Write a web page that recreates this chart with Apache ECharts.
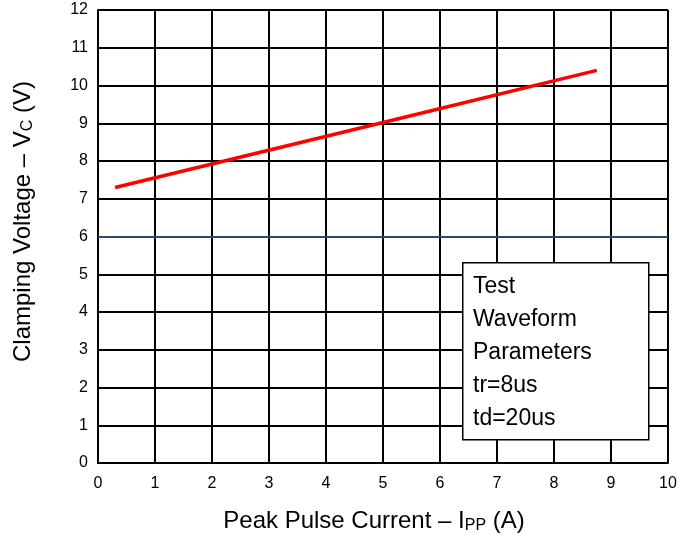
<!DOCTYPE html>
<html><head><meta charset="utf-8">
<script src="https://cdn.jsdelivr.net/npm/echarts@6/dist/echarts.min.js"></script>
<style>html,body{margin:0;padding:0;background:#fff}#c{width:696px;height:538px}</style>
</head><body><div id="c"></div>
<script>
const currentA = [0.3, 5.0, 8.75];
const clampV = [7.3, 9.02, 10.4];
const xTicks = [0,1,2,3,4,5,6,7,8,9,10];
const yTicks = [0,1,2,3,4,5,6,7,8,9,10,11,12];
const boxLines = ['Test', 'Waveform', 'Parameters', 'tr=8us', 'td=20us'];

const chart = echarts.init(document.getElementById('c'));
const font = '"Liberation Sans", Arial, sans-serif';
chart.setOption({
  animation: false,
  textStyle: {fontFamily: font},
  grid: {left: 98, right: 28, top: 10, bottom: 75, show: false, outerBoundsMode: 'none', containLabel: false},
  xAxis: {
    type: 'value', min: 0, max: 10, interval: 1,
    axisLine: {show: true, lineStyle: {color: '#000', width: 2}},
    axisTick: {show: false},
    axisLabel: {color: '#000', fontSize: 16, margin: 13, fontFamily: font},
    splitLine: {show: true, lineStyle: {color: '#000', width: 2}},
    name: '{n|Peak Pulse Current \u2013 I}{s|PP}{n| (A)}',
    nameLocation: 'middle', nameGap: 45,
    nameTextStyle: {padding: [0, 18, 0, 0], rich: {
      n: {fontSize: 24, color: '#000', fontFamily: font},
      s: {fontSize: 16, color: '#000', fontFamily: font, verticalAlign: 'bottom', padding: [10,0,0,0]}
    }}
  },
  yAxis: {
    type: 'value', min: 0, max: 12, interval: 1,
    axisLine: {show: true, lineStyle: {color: '#000', width: 2}},
    axisTick: {show: false},
    axisLabel: {color: '#000', fontSize: 16, margin: 10, fontFamily: font},
    splitLine: {show: true, lineStyle: {color: '#000', width: 2}},
    name: '{n|Clamping Voltage \u2013 V}{s|C}{n| (V)}',
    nameLocation: 'middle', nameGap: 62,
    nameTextStyle: {padding: [0, 0, 0, 30], rich: {
      n: {fontSize: 24, color: '#000', fontFamily: font},
      s: {fontSize: 16, color: '#000', fontFamily: font, verticalAlign: 'bottom', padding: [10,0,0,0]}
    }}
  },
  series: [{
    type: 'line',
    data: currentA.map((x, i) => [x, clampV[i]]),
    symbol: 'none', smooth: false,
    lineStyle: {color: '#ff0000', width: 3.5},
    z: 5,
    markLine: {
      silent: true, symbol: 'none', label: {show: false},
      lineStyle: {color: '#2a4a6b', width: 2, type: 'solid'},
      data: [{yAxis: 6}], z: 2
    }
  }],
  graphic: [
    {type: 'rect', left: 462, top: 262, z: 100, zlevel: 1,
     shape: {width: 186, height: 177},
     style: {fill: '#ffffff', stroke: '#000', lineWidth: 1.5}},
    {type: 'text', left: 473, top: 270, z: 101, zlevel: 1,
     style: {text: boxLines.join('\n'), fill: '#000', font: '23px ' + font, lineHeight: 33}}
  ]
});
</script></body></html>
